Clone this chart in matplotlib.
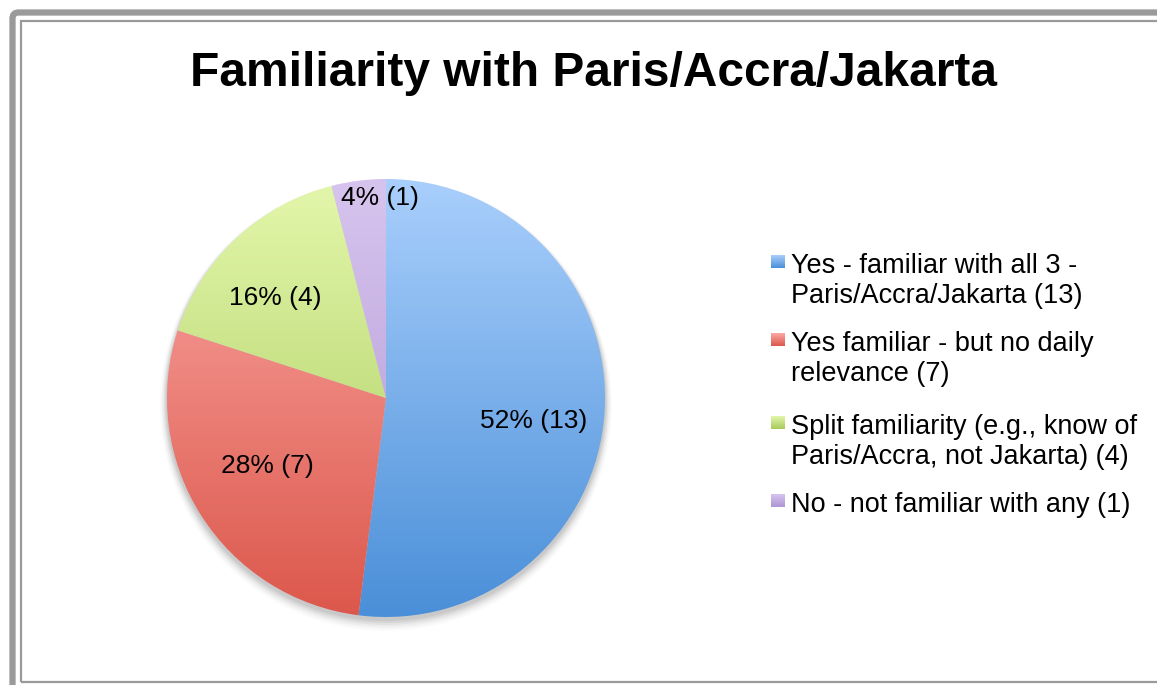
import numpy as np
import matplotlib
matplotlib.use("Agg")
import matplotlib.pyplot as plt
from matplotlib.patches import FancyBboxPatch, Rectangle, Circle
from matplotlib.colors import LinearSegmentedColormap

title = "Familiarity with Paris/Accra/Jakarta"
categories = [
    "Yes - familiar with all 3 -\nParis/Accra/Jakarta (13)",
    "Yes familiar - but no daily\nrelevance (7)",
    "Split familiarity (e.g., know of\nParis/Accra, not Jakarta) (4)",
    "No - not familiar with any (1)",
]
counts = [13, 7, 4, 1]
pct_labels = ["52% (13)", "28% (7)", "16% (4)", "4% (1)"]
top_colors = ["#a9cffc", "#fbaaa6", "#e3f7ab", "#d7c4ee"]
bot_colors = ["#4a8fd8", "#dc574b", "#a7c95a", "#ae95d4"]

plt.rcParams['font.family'] = ['Liberation Sans', 'DejaVu Sans']

W, H = 1157, 685
fig = plt.figure(figsize=(W / 100, H / 100), dpi=100)
fig.patch.set_facecolor("white")
ax = fig.add_axes([0, 0, 1, 1])

cx, cy, r = 386, H - 398, 219

# shadow
for i, a in enumerate(np.linspace(0.06, 0.015, 6)):
    ax.add_patch(Circle((cx, cy - 3 - i * 0.8), r + 1 + i * 1.2, color="black",
                        alpha=a, lw=0, zorder=1))

wedges, _ = ax.pie(counts, startangle=90, counterclock=False, center=(cx, cy),
                   radius=r, wedgeprops=dict(linewidth=0))
ax.set_xlim(0, W)
ax.set_ylim(0, H)
ax.set_aspect("auto")
ax.axis("off")

grad = np.linspace(1, 0, 256).reshape(-1, 1)
for w, tc, bc in zip(wedges, top_colors, bot_colors):
    w.set_facecolor("none")
    w.set_zorder(2)
    cmap = LinearSegmentedColormap.from_list("g", [bc, tc])
    im = ax.imshow(grad, cmap=cmap, extent=[cx - r, cx + r, cy - r, cy + r],
                   aspect="auto", zorder=2, interpolation="bicubic", origin="upper")
    im.set_clip_path(w)

# percentage labels
label_pos = [(534, 421), (267, 466), (275, 298), (380, 198)]
for (px, py), t in zip(label_pos, pct_labels):
    ax.text(px, H - py, t, fontsize=19, ha="center", va="center", zorder=5)

# title
fig.text(593 / W, 1 - 73 / H, title, fontsize=34.5, fontweight="bold",
         ha="center", va="center")

# legend
leg_y = [281, 359, 442, 505]
for yy, lab, tc, bc in zip(leg_y, categories, top_colors, bot_colors):
    first_line_y = yy if "\n" not in lab else yy - 15.5
    cmap = LinearSegmentedColormap.from_list("g", [bc, tc])
    ax.imshow(grad, cmap=cmap, extent=[771, 785, H - first_line_y - 2, H - first_line_y + 11],
              aspect="auto", zorder=5, interpolation="bilinear", origin="upper")
    ax.text(791, H - yy, lab, fontsize=19.5, ha="left", va="center",
            linespacing=1.22, zorder=5)

ax.set_xlim(0, W)
ax.set_ylim(0, H)

# frame
ax.add_patch(FancyBboxPatch((12.5, -40), 1200, H - 12.5 + 40,
                            boxstyle="round,pad=0,rounding_size=6",
                            facecolor="none", edgecolor="#9a9a9a", lw=4.5, zorder=10,
                            clip_on=False))
ax.add_patch(Rectangle((20.5, H - 682), 1200, 682 - 20.5, facecolor="none",
                       edgecolor="#9a9a9a", lw=1.6, zorder=10, clip_on=False))

fig.savefig("out.png", dpi=100, facecolor="white")
